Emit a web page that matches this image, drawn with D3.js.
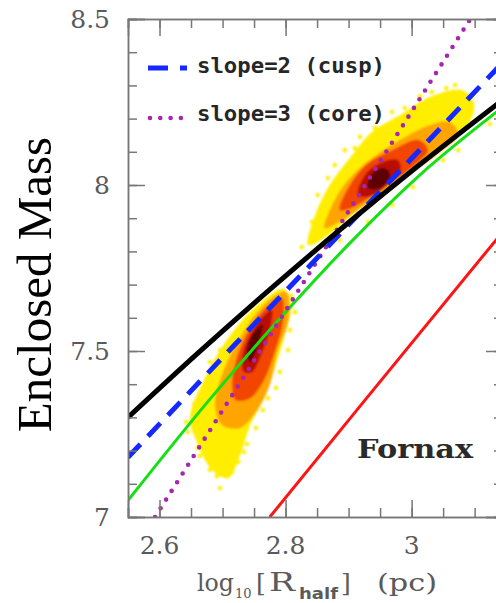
<!DOCTYPE html>
<html>
<head>
<meta charset="utf-8">
<script src="https://cdn.jsdelivr.net/npm/d3@7"></script>
<style>
  html, body { margin: 0; padding: 0; background: #fff; }
  svg { display: block; }
</style>
</head>
<body>
<svg id="chart" width="496" height="603"></svg>
<script>
// ---- data -------------------------------------------------------------
const xTickLabels = [2.6, 2.8, 3];
const yTickLabels = [7, 7.5, 8, 8.5];

// model mass profile (solid black)
const massX = [2.55, 2.66, 2.778, 2.902, 3.01, 3.145];
const massY = [7.30, 7.492, 7.69, 7.89, 8.057, 8.257];
// green profile
const greenX = [2.55, 2.676, 2.811, 2.902, 3.013, 3.145];
const greenY = [7.05, 7.346, 7.64, 7.825, 8.03, 8.235];
// red profile
const redX = [2.775, 2.926, 3.145];
const redY = [7.0, 7.352, 7.86];
// reference power laws
const cuspX = [2.55, 3.145];
const cuspY = [7.18, 8.37];
const coreX = [2.593, 3.093];
const coreY = [7.0, 8.5];

const legendLabels = ["slope=2 (cusp)", "slope=3 (core)"];
const galaxyName = "Fornax";

// density levels of the two stellar sub-populations (outline vertices, data units)
const levelColors = ["#ffee00", "#ffa400", "#f24400", "#b80c00", "#5c0000"];
const popA = [
  [[2.797,7.687],[2.809,7.639],[2.799,7.548],[2.783,7.449],[2.766,7.358],[2.744,7.277],[2.728,7.187],[2.709,7.117],[2.683,7.142],[2.658,7.232],[2.648,7.298],[2.672,7.419],[2.709,7.539],[2.756,7.639]],
  [[2.801,7.678],[2.805,7.599],[2.787,7.497],[2.775,7.398],[2.755,7.322],[2.728,7.268],[2.699,7.277],[2.688,7.337],[2.699,7.428],[2.721,7.518],[2.751,7.608],[2.778,7.660]],
  [[2.794,7.660],[2.796,7.587],[2.783,7.497],[2.766,7.413],[2.744,7.358],[2.721,7.352],[2.715,7.398],[2.724,7.488],[2.744,7.569],[2.769,7.630]],
  [[2.778,7.623],[2.775,7.563],[2.763,7.497],[2.747,7.437],[2.734,7.437],[2.732,7.488],[2.744,7.548],[2.763,7.602]],
  [[2.763,7.578],[2.756,7.518],[2.744,7.467],[2.739,7.497],[2.747,7.548]]
];
const popB = [
  [[2.836,7.819],[2.847,7.910],[2.870,8.000],[2.902,8.081],[2.937,8.160],[2.982,8.211],[3.029,8.265],[3.080,8.286],[3.099,8.244],[3.092,8.190],[3.064,8.136],[3.029,8.087],[2.989,8.030],[2.950,7.973],[2.910,7.916],[2.874,7.858]],
  [[2.862,7.870],[2.878,7.955],[2.902,8.021],[2.937,8.081],[2.982,8.136],[3.029,8.181],[3.061,8.190],[3.074,8.151],[3.045,8.099],[3.005,8.045],[2.966,7.991],[2.926,7.940],[2.886,7.889]],
  [[2.886,7.925],[2.902,8.000],[2.931,8.066],[2.969,8.105],[3.010,8.136],[3.026,8.105],[3.005,8.060],[2.974,8.015],[2.937,7.967],[2.905,7.931]],
  [[2.915,7.970],[2.926,8.030],[2.950,8.066],[2.978,8.075],[2.982,8.039],[2.962,8.000],[2.937,7.967]],
  [[2.931,7.991],[2.937,8.033],[2.956,8.051],[2.966,8.030],[2.950,7.991]]
];
// sparse members on the outskirts
const strayX = [2.696,2.691,2.710,2.642,2.655,2.680,2.696,2.809,2.815,2.804,2.785,2.764,2.753,2.739,2.664,2.725,2.672,
                2.645,2.661,2.680,2.715,2.734,2.772,2.791,2.807,2.672,2.688,
                2.826,2.847,2.886,2.858,2.894,2.918,2.969,3.013,3.055,3.093,3.108,3.124,3.050,3.002,2.969,2.931,3.074,
                2.878,2.867,2.851,2.842,2.910,2.942,2.989,3.032,3.069,3.077];
const strayY = [7.087,7.123,7.148,7.286,7.340,7.467,7.503,7.666,7.617,7.503,7.389,7.322,7.268,7.220,7.184,7.166,7.232,
                7.256,7.208,7.142,7.136,7.196,7.358,7.437,7.563,7.367,7.437,
                7.813,7.798,7.834,7.940,8.105,8.145,8.220,8.268,8.292,8.268,8.202,8.184,8.075,7.994,7.940,7.889,8.105,
                8.060,8.021,7.970,7.889,8.111,8.172,8.232,8.280,8.301,8.256];

// ---- layout -----------------------------------------------------------
const svg = d3.select("#chart");
const L = 128, R = 503, T = 19, B = 517;
const x = d3.scaleLinear().domain([2.55, 3.145]).range([L, R]);
const y = d3.scaleLinear().domain([7, 8.5]).range([B, T]);

const defs = svg.append("defs");
defs.append("clipPath").attr("id", "plotClip")
  .append("rect").attr("x", L).attr("y", T).attr("width", R - L).attr("height", B - T);
defs.append("filter").attr("id", "soft").attr("x", "-20%").attr("y", "-20%").attr("width", "140%").attr("height", "140%")
  .append("feGaussianBlur").attr("stdDeviation", 1.3);

const plot = svg.append("g").attr("clip-path", "url(#plotClip)");

// density clouds
const shape = d3.line().x(d => x(d[0])).y(d => y(d[1])).curve(d3.curveCatmullRomClosed.alpha(0.5));
const clouds = plot.append("g").attr("filter", "url(#soft)");
clouds.selectAll("circle.stray").data(strayX.map((v, i) => [v, strayY[i]]))
  .join("circle").attr("class", "stray")
  .attr("cx", d => x(d[0])).attr("cy", d => y(d[1])).attr("r", 2.3)
  .attr("fill", levelColors[0]);
[popA, popB].forEach(pop => {
  pop.forEach((poly, i) => {
    clouds.append("path").attr("d", shape(poly)).attr("fill", levelColors[i]);
  });
});

// profiles
const path = d3.line().x(d => x(d[0])).y(d => y(d[1]));
const smooth = d3.line().x(d => x(d[0])).y(d => y(d[1])).curve(d3.curveMonotoneX);
const zip = (a, b) => a.map((v, i) => [v, b[i]]);

plot.append("path").attr("d", path(zip(redX, redY)))
  .attr("fill", "none").attr("stroke", "#ff1414").attr("stroke-width", 3);
plot.append("path").attr("d", smooth(zip(greenX, greenY)))
  .attr("fill", "none").attr("stroke", "#14e014").attr("stroke-width", 3);
plot.append("path").attr("d", path(zip(coreX, coreY)))
  .attr("fill", "none").attr("stroke", "#a526b0").attr("stroke-width", 4.6)
  .attr("stroke-linecap", "round").attr("stroke-dasharray", "0 10.3");
plot.append("path").attr("d", path(zip(cuspX, cuspY)))
  .attr("fill", "none").attr("stroke", "#1428ff").attr("stroke-width", 5)
  .attr("stroke-dasharray", "18 11");
plot.append("path").attr("d", smooth(zip(massX, massY)))
  .attr("fill", "none").attr("stroke", "#000").attr("stroke-width", 5);

// ---- axes frame -------------------------------------------------------
const axisColor = "#777";
const minorX = d3.range(2.55, 3.146, 0.05).map(v => +v.toFixed(2));
const minorY = d3.range(7, 8.501, 0.1).map(v => +v.toFixed(1));
const majorX = xTickLabels, majorY = yTickLabels;

function drawAxis(axis, tr) {
  const g = svg.append("g").attr("transform", tr).call(axis);
  g.select(".domain").attr("stroke", axisColor).attr("stroke-width", 1.5);
  g.selectAll(".tick line").attr("stroke", axisColor).attr("stroke-width", 1.5);
  g.selectAll("text").remove();
  return g;
}
// minor ticks (inward)
drawAxis(d3.axisTop(x).tickValues(minorX).tickSizeOuter(0).tickSize(9), `translate(0,${B})`);
drawAxis(d3.axisBottom(x).tickValues(minorX).tickSizeOuter(0).tickSize(9), `translate(0,${T})`);
drawAxis(d3.axisRight(y).tickValues(minorY).tickSizeOuter(0).tickSize(9), `translate(${L},0)`);
drawAxis(d3.axisLeft(y).tickValues(minorY).tickSizeOuter(0).tickSize(9), `translate(${R},0)`);
// major ticks (inward)
drawAxis(d3.axisTop(x).tickValues(majorX).tickSizeOuter(0).tickSize(17), `translate(0,${B})`);
drawAxis(d3.axisBottom(x).tickValues(majorX).tickSizeOuter(0).tickSize(17), `translate(0,${T})`);
drawAxis(d3.axisRight(y).tickValues(majorY).tickSizeOuter(0).tickSize(17), `translate(${L},0)`);
drawAxis(d3.axisLeft(y).tickValues(majorY).tickSizeOuter(0).tickSize(17), `translate(${R},0)`);

// tick labels
const tickFont = "'DejaVu Serif', serif";
svg.append("g").selectAll("text").data(xTickLabels).join("text")
  .attr("x", d => x(d)).attr("y", 554)
  .attr("text-anchor", "middle")
  .attr("font-family", tickFont).attr("font-size", 25).attr("fill", "#5a5a5a")
  .text(d => d3.format("")(d));
svg.append("g").selectAll("text").data(yTickLabels).join("text")
  .attr("x", 110).attr("y", d => y(d) + 9)
  .attr("text-anchor", "end")
  .attr("font-family", tickFont).attr("font-size", 25).attr("fill", "#5a5a5a")
  .text(d => d3.format("")(d));

// x-axis title: log10 [R_half] (pc)
const xt = svg.append("g").attr("font-family", tickFont).attr("fill", "#5a5a5a");
const piece = (px, py, size, str, extra) => {
  const t = xt.append("text").attr("x", px).attr("y", py).attr("font-size", size).text(str);
  if (extra) extra(t);
  return t;
};
piece(197, 591, 25, "log", t => t.attr("textLength", 37).attr("lengthAdjust", "spacingAndGlyphs"));
piece(235, 598, 13, "10");
piece(256, 591, 25, "[");
piece(269, 591, 26, "R", t => t.attr("textLength", 26).attr("lengthAdjust", "spacingAndGlyphs"));
piece(299, 599, 15, "half", t => t.attr("font-family", "'DejaVu Sans', sans-serif").attr("font-weight", "bold")
  .attr("textLength", 39).attr("lengthAdjust", "spacingAndGlyphs"));
piece(341, 591, 25, "]");
piece(377, 591, 25, "(pc)", t => t.attr("textLength", 60).attr("lengthAdjust", "spacingAndGlyphs"));

svg.append("text")
  .attr("transform", "translate(51,284.5) rotate(-90)")
  .attr("text-anchor", "middle")
  .attr("font-family", "'Liberation Serif', 'Times New Roman', serif")
  .attr("font-size", 49).attr("fill", "#000")
  .text("Enclosed Mass");

// legend
const legFont = "'DejaVu Sans Mono', monospace";
svg.append("line").attr("x1", 148).attr("x2", 187).attr("y1", 68).attr("y2", 68)
  .attr("stroke", "#1428ff").attr("stroke-width", 5).attr("stroke-dasharray", "20 12");
svg.append("line").attr("x1", 150).attr("x2", 185).attr("y1", 118).attr("y2", 118)
  .attr("stroke", "#a526b0").attr("stroke-width", 4.6).attr("stroke-linecap", "round")
  .attr("stroke-dasharray", "0 10.3");
svg.append("g").selectAll("text").data(legendLabels).join("text")
  .attr("x", 197).attr("y", (d, i) => 73 + i * 48)
  .attr("font-family", legFont).attr("font-weight", "bold").attr("font-size", 21)
  .attr("fill", "#262626")
  .attr("textLength", 188).attr("lengthAdjust", "spacingAndGlyphs")
  .text(d => d);

svg.append("text").attr("x", 357).attr("y", 458)
  .attr("font-family", tickFont).attr("font-weight", "bold").attr("font-size", 26)
  .attr("fill", "#2a2a2a")
  .attr("textLength", 116).attr("lengthAdjust", "spacingAndGlyphs")
  .text(galaxyName);
</script>
</body>
</html>
